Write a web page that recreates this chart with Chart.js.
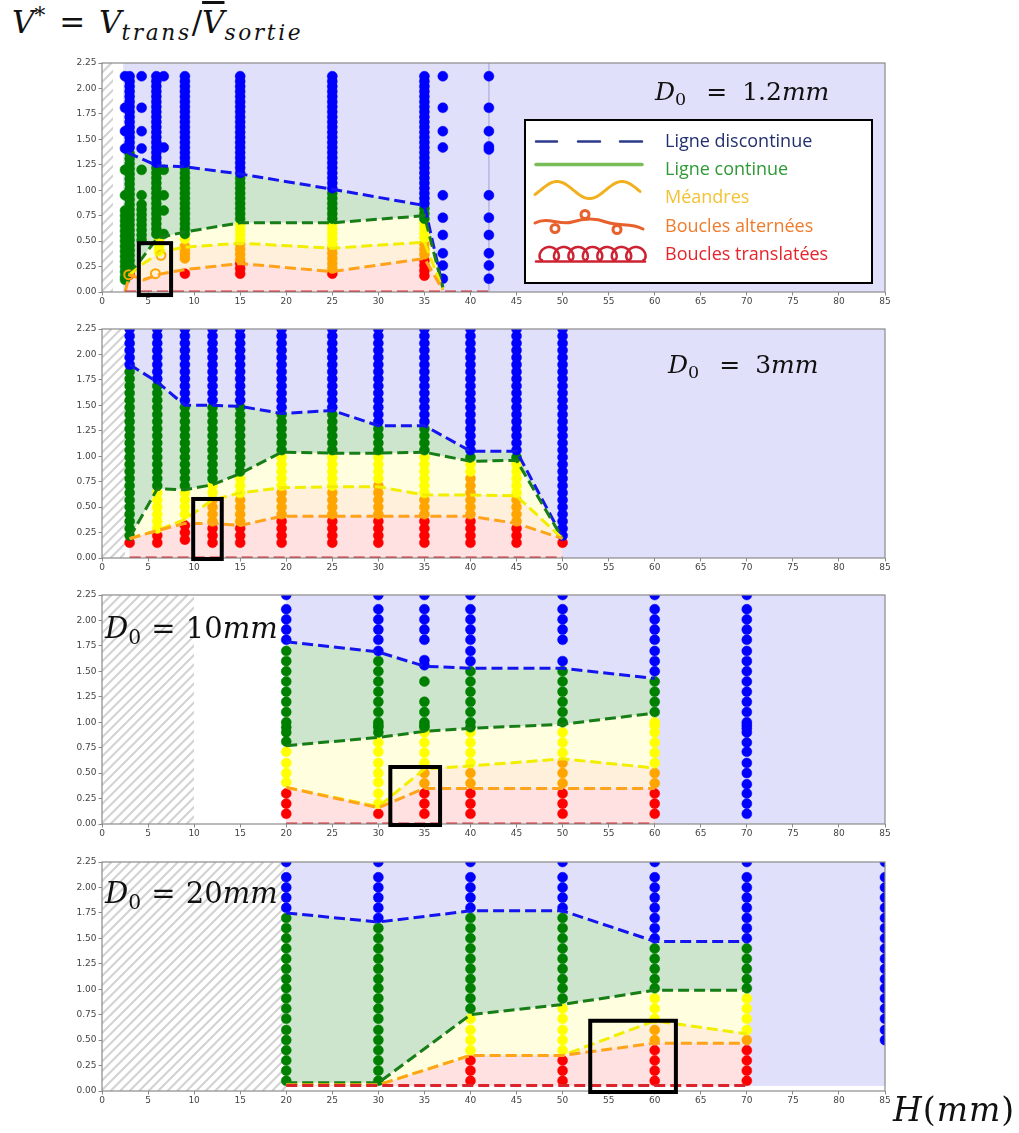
<!DOCTYPE html>
<html>
<head>
<meta charset="utf-8">
<script src="https://cdn.jsdelivr.net/npm/chart.js@4.4.0/dist/chart.umd.min.js"></script>
<style>
  body { margin: 0; background: #fff; }
  #page { position: relative; width: 1019px; height: 1133px; overflow: hidden; }
  canvas { position: absolute; left: 0; }
  .math { position: absolute; font-family: 'DejaVu Serif', serif; white-space: nowrap; line-height: 1; color: #111; }
  .math i { font-style: italic; }
  .math sub, .math sup { font-size: 0.7em; position: relative; vertical-align: baseline; line-height: 0; }
  .math sub { top: 0.3em; }
  .math sup { top: -0.45em; }
  .bar { text-decoration: overline; }
</style>
</head>
<body>
<div id="page">
  <canvas id="c1" width="1019" height="261" style="top:53px"></canvas>
  <canvas id="c2" width="1019" height="261" style="top:319px"></canvas>
  <canvas id="c3" width="1019" height="261" style="top:585px"></canvas>
  <canvas id="c4" width="1019" height="261" style="top:852px"></canvas>

  <div class="math" style="left:12px;top:7px;font-size:31px"><i>V</i><sup>*</sup><span style="margin:0 0.45em">=</span><i>V</i><sub style="letter-spacing:0.12em"><i>trans</i></sub>/<i class="bar">V</i><sub style="letter-spacing:0.12em"><i>sortie</i></sub></div>
  <div class="math" style="left:655px;top:79px;font-size:25px"><i>D</i><sub>0</sub><span style="margin:0 0.6em 0 0.8em">=</span>1.2<i>mm</i></div>
  <div class="math" style="left:668px;top:352px;font-size:25px"><i>D</i><sub>0</sub><span style="margin:0 0.6em 0 0.8em">=</span>3<i>mm</i></div>
  <div class="math" style="left:105px;top:614px;font-size:29px"><i>D</i><sub>0</sub><span style="margin:0 0.35em">=</span>10<i>mm</i></div>
  <div class="math" style="left:105px;top:879px;font-size:29px"><i>D</i><sub>0</sub><span style="margin:0 0.35em">=</span>20<i>mm</i></div>
  <div class="math" style="left:893px;top:1093px;font-size:33px;letter-spacing:1px"><i>H</i>(<i>mm</i>)</div>
</div>

<script>
// ---- panel 1 : D0 = 1.2mm ----
const p1Blue = [
  [2.5, [2.12, 1.81, 1.58, 1.41]],
  [3, [2.12, 2.07, 2.02, 1.97, 1.92, 1.87, 1.82, 1.77, 1.72, 1.67, 1.62, 1.57, 1.52, 1.47, 1.42]],
  [4.3, [2.12, 1.81, 1.58, 1.41]],
  [5.9, [2.12, 2.07, 2.02, 1.97, 1.92, 1.87, 1.82, 1.77, 1.72, 1.67, 1.62, 1.57, 1.52, 1.47, 1.42, 1.37, 1.32, 1.27]],
  [6.7, [2.12, 1.42]],
  [9, [2.12, 2.07, 2.02, 1.97, 1.92, 1.87, 1.82, 1.77, 1.72, 1.67, 1.62, 1.57, 1.52, 1.47, 1.42, 1.37, 1.32, 1.27]],
  [15, [2.12, 2.07, 2.02, 1.97, 1.92, 1.87, 1.82, 1.77, 1.72, 1.67, 1.62, 1.57, 1.52, 1.47, 1.42, 1.37, 1.32, 1.27, 1.22, 1.17]],
  [25, [2.12, 2.07, 2.02, 1.97, 1.92, 1.87, 1.82, 1.77, 1.72, 1.67, 1.62, 1.57, 1.52, 1.47, 1.42, 1.37, 1.32, 1.27, 1.22, 1.17, 1.12, 1.07, 1.02]],
  [35, [2.12, 2.07, 2.02, 1.97, 1.92, 1.87, 1.82, 1.77, 1.72, 1.67, 1.62, 1.57, 1.52, 1.47, 1.42, 1.37, 1.32, 1.27, 1.22, 1.17, 1.12, 1.07, 1.02, 0.97, 0.92, 0.87]],
  [37, [2.12, 1.81, 1.58, 1.42, 0.95, 0.73, 0.56, 0.38, 0.26, 0.13]],
  [42, [2.12, 1.81, 1.58, 1.43, 1.40, 0.95, 0.73, 0.56, 0.38, 0.26, 0.13]]
];
const p1Green = [
  [2.5, [1.2, 0.95, 0.8, 0.75, 0.7, 0.65, 0.6, 0.55, 0.5, 0.45, 0.4, 0.35, 0.3, 0.25, 0.2, 0.15, 0.12]],
  [3, [1.36, 1.31, 1.26, 1.21, 1.16, 1.11, 1.06, 1.01, 0.96, 0.91, 0.86, 0.81, 0.76, 0.71, 0.66, 0.61, 0.56, 0.51, 0.46, 0.41, 0.36, 0.31, 0.26, 0.21]],
  [4.3, [1.2, 0.95, 0.86, 0.81, 0.76, 0.71, 0.66, 0.61, 0.56, 0.51]],
  [5.9, [1.22, 1.17, 1.12, 1.07, 1.02, 0.97, 0.92, 0.87, 0.82, 0.77, 0.72, 0.67, 0.62, 0.57]],
  [6.7, [1.2, 0.95, 0.8, 0.57]],
  [9, [1.22, 1.17, 1.12, 1.07, 1.02, 0.97, 0.92, 0.87, 0.82, 0.77, 0.72, 0.67, 0.62, 0.57]],
  [15, [1.12, 1.07, 1.02, 0.97, 0.92, 0.87, 0.82, 0.77, 0.72]],
  [25, [0.97, 0.92, 0.87, 0.82, 0.77, 0.72]],
  [35, [0.82, 0.77, 0.72]]
];
const p1Yellow = [
  [6.2, [0.5, 0.45, 0.4]],
  [9, [0.52]],
  [15, [0.66, 0.61, 0.56, 0.51]],
  [25, [0.67, 0.62, 0.57, 0.52, 0.47]],
  [35, [0.68, 0.63, 0.58, 0.53]]
];
const p1Orange = [
  [9, [0.45, 0.41, 0.37, 0.33]],
  [15, [0.47, 0.42, 0.37, 0.32]],
  [25, [0.43, 0.38, 0.33, 0.28, 0.23]],
  [35, [0.47, 0.42, 0.37]]
];
const p1Red = [
  [3, [0.17]],
  [9, [0.18]],
  [15, [0.28, 0.23, 0.18]],
  [25, [0.18]],
  [35, [0.31, 0.26, 0.21, 0.16]]
];
const p1Rings = [[2.9, [0.17]], [6.4, [0.36]], [5.8, [0.18]]];
const p1LineBlue = [[2.8, 1.37], [6, 1.24], [9, 1.23], [15, 1.16], [25, 1.01], [35, 0.85], [37, 0.05]];
const p1LineGreen = [[3, 0.17], [6, 0.53], [9, 0.59], [15, 0.68], [25, 0.68], [35, 0.75], [37, 0.04]];
const p1LineYellow = [[3, 0.17], [4.5, 0.28], [6.5, 0.4], [9, 0.44], [15, 0.48], [25, 0.43], [35, 0.49], [37, 0.03]];
const p1LineOrange = [[2.5, 0], [3, 0.17], [4.5, 0.12], [6.5, 0.18], [9, 0.22], [15, 0.28], [25, 0.2], [35, 0.33], [37, 0.02]];
const p1LineRed = [[2.5, 0], [42, 0]];
const p1VLine = [[42, 0], [42, 2.25]];
const p1Box = [4.0, 7.5, -0.03, 0.48];

// ---- panel 2 : D0 = 3mm ----
const p2Blue = [
  [3, [2.25, 2.18, 2.11, 2.04, 1.97, 1.90]],
  [6, [2.25, 2.18, 2.11, 2.04, 1.97, 1.90, 1.83, 1.76]],
  [9, [2.25, 2.18, 2.11, 2.04, 1.97, 1.90, 1.83, 1.76, 1.69, 1.62, 1.55]],
  [12, [2.25, 2.18, 2.11, 2.04, 1.97, 1.90, 1.83, 1.76, 1.69, 1.62, 1.55]],
  [15, [2.25, 2.18, 2.11, 2.04, 1.97, 1.90, 1.83, 1.76, 1.69, 1.62, 1.55]],
  [19.5, [2.25, 2.18, 2.11, 2.04, 1.97, 1.90, 1.83, 1.76, 1.69, 1.62, 1.55, 1.48]],
  [25, [2.25, 2.18, 2.11, 2.04, 1.97, 1.90, 1.83, 1.76, 1.69, 1.62, 1.55, 1.48]],
  [30, [2.25, 2.18, 2.11, 2.04, 1.97, 1.90, 1.83, 1.76, 1.69, 1.62, 1.55, 1.48, 1.41, 1.34]],
  [35, [2.25, 2.18, 2.11, 2.04, 1.97, 1.90, 1.83, 1.76, 1.69, 1.62, 1.55, 1.48, 1.41, 1.34]],
  [40, [2.25, 2.18, 2.11, 2.04, 1.97, 1.90, 1.83, 1.76, 1.69, 1.62, 1.55, 1.48, 1.41, 1.34, 1.27, 1.20, 1.13, 1.06]],
  [45, [2.25, 2.18, 2.11, 2.04, 1.97, 1.90, 1.83, 1.76, 1.69, 1.62, 1.55, 1.48, 1.41, 1.34, 1.27, 1.20, 1.13, 1.06]],
  [50, [2.25, 2.18, 2.11, 2.04, 1.97, 1.90, 1.83, 1.76, 1.69, 1.62, 1.55, 1.48, 1.41, 1.34, 1.27, 1.20, 1.13, 1.06, 0.99, 0.92, 0.85, 0.78, 0.71, 0.64, 0.57, 0.50, 0.43, 0.36, 0.29, 0.22]]
];
const p2Green = [
  [3, [1.83, 1.76, 1.69, 1.62, 1.55, 1.48, 1.41, 1.34, 1.27, 1.20, 1.13, 1.06, 0.99, 0.92, 0.85, 0.78, 0.71, 0.64, 0.57, 0.50, 0.43, 0.36, 0.29, 0.22]],
  [6, [1.69, 1.62, 1.55, 1.48, 1.41, 1.34, 1.27, 1.20, 1.13, 1.06, 0.99, 0.92, 0.85, 0.78, 0.71]],
  [9, [1.48, 1.41, 1.34, 1.27, 1.20, 1.13, 1.06, 0.99, 0.92, 0.85, 0.78, 0.71]],
  [12, [1.48, 1.41, 1.34, 1.27, 1.20, 1.13, 1.06, 0.99, 0.92, 0.85, 0.78]],
  [15, [1.48, 1.41, 1.34, 1.27, 1.20, 1.13, 1.06, 0.99, 0.92, 0.85]],
  [19.5, [1.41, 1.34, 1.27, 1.20, 1.13, 1.06]],
  [25, [1.41, 1.34, 1.27, 1.20, 1.13, 1.06]],
  [30, [1.27, 1.20, 1.13, 1.06]],
  [35, [1.27, 1.20, 1.13, 1.06]],
  [40, [0.99]],
  [45, [0.99]]
];
const p2Yellow = [
  [6, [0.64, 0.57, 0.50, 0.43, 0.36, 0.29]],
  [9, [0.64, 0.57, 0.50, 0.43]],
  [12, [0.71, 0.64]],
  [15, [0.78, 0.71, 0.64]],
  [19.5, [0.99, 0.92, 0.85, 0.78, 0.71]],
  [25, [0.99, 0.92, 0.85, 0.78, 0.71]],
  [30, [0.99, 0.92, 0.85, 0.78]],
  [35, [0.99, 0.92, 0.85, 0.78, 0.71, 0.64]],
  [40, [0.92, 0.85]],
  [45, [0.92, 0.85, 0.78, 0.71, 0.64]]
];
const p2Orange = [
  [12, [0.57, 0.50, 0.43, 0.36]],
  [15, [0.57, 0.50, 0.43, 0.36]],
  [19.5, [0.64, 0.57, 0.50, 0.43]],
  [25, [0.64, 0.57, 0.50, 0.43]],
  [30, [0.71, 0.64, 0.57, 0.50, 0.43]],
  [35, [0.57, 0.50, 0.43]],
  [40, [0.78, 0.71, 0.64, 0.57, 0.50, 0.43]],
  [45, [0.57, 0.50, 0.43, 0.36]]
];
const p2Red = [
  [3, [0.15]],
  [6, [0.22, 0.15]],
  [9, [0.32, 0.25, 0.18]],
  [12, [0.29, 0.22, 0.15]],
  [15, [0.29, 0.22, 0.15]],
  [19.5, [0.36, 0.29, 0.22, 0.15]],
  [25, [0.36, 0.29, 0.22, 0.15]],
  [30, [0.36, 0.29, 0.22, 0.15]],
  [35, [0.36, 0.29, 0.22, 0.15]],
  [40, [0.36, 0.29, 0.22, 0.15]],
  [45, [0.29, 0.22, 0.15]],
  [50, [0.15]]
];
const p2LineBlue = [[3, 1.9], [6, 1.73], [9, 1.5], [12, 1.5], [15, 1.49], [19.5, 1.42], [25, 1.45], [30, 1.3], [35, 1.3], [40, 1.05], [45, 1.05], [50, 0.2]];
const p2LineGreen = [[3, 0.2], [6, 0.68], [9, 0.67], [12, 0.72], [15, 0.83], [19.5, 1.04], [25, 1.03], [30, 1.03], [35, 1.04], [40, 0.95], [45, 0.96], [50, 0.19]];
const p2LineYellow = [[3, 0.19], [6, 0.27], [9, 0.38], [12, 0.57], [15, 0.64], [19.5, 0.69], [25, 0.7], [30, 0.7], [35, 0.62], [40, 0.62], [45, 0.61], [50, 0.19]];
const p2LineOrange = [[3, 0.19], [6, 0.27], [9, 0.34], [12, 0.34], [15, 0.32], [19.5, 0.41], [25, 0.41], [30, 0.41], [35, 0.41], [40, 0.41], [45, 0.34], [50, 0.19]];
const p2LineRed = [[3, 0], [50, 0]];
const p2Box = [9.9, 13.0, -0.01, 0.58];

// ---- panel 3 : D0 = 10mm ----
const p3Blue = [
  [20, [2.25, 2.11, 2.01, 1.91, 1.81]],
  [30, [2.25, 2.11, 2.01, 1.91, 1.81, 1.70]],
  [35, [2.25, 2.11, 2.01, 1.91, 1.81, 1.61, 1.56]],
  [40, [2.25, 2.11, 2.01, 1.91, 1.81, 1.70, 1.60]],
  [50, [2.25, 2.11, 2.01, 1.91, 1.81, 1.60]],
  [60, [2.25, 2.11, 2.01, 1.91, 1.81, 1.70, 1.60, 1.50]],
  [70, [2.25, 2.11, 2.01, 1.91, 1.81, 1.70, 1.60, 1.50, 1.40, 1.30, 1.20, 1.10, 1.00, 0.97, 0.94, 0.90, 0.80, 0.71, 0.60, 0.50, 0.39, 0.30, 0.20, 0.10]]
];
const p3Green = [
  [20, [1.70, 1.60, 1.50, 1.40, 1.30, 1.20, 1.10, 1.00, 0.95, 0.90, 0.81]],
  [30, [1.60, 1.50, 1.40, 1.30, 1.20, 1.10, 1.00, 0.97, 0.95, 0.90]],
  [35, [1.40, 1.20, 1.10, 1.00, 0.97, 0.95]],
  [40, [1.50, 1.40, 1.30, 1.20, 1.10, 1.00, 0.95]],
  [50, [1.50, 1.40, 1.30, 1.20, 1.10, 1.00]],
  [60, [1.40, 1.30, 1.20, 1.10]]
];
const p3Yellow = [
  [20, [0.71, 0.60, 0.50, 0.41]],
  [30, [0.80, 0.71, 0.60, 0.50, 0.41, 0.30, 0.20]],
  [35, [0.90, 0.80, 0.70, 0.60]],
  [40, [0.90, 0.80, 0.70, 0.60]],
  [50, [0.90, 0.80, 0.70]],
  [60, [1.00, 0.97, 0.90, 0.80, 0.70, 0.60]]
];
const p3Orange = [[35, [0.50, 0.40]], [40, [0.50, 0.40]], [50, [0.60, 0.50, 0.40]], [60, [0.50, 0.40]]];
const p3Red = [[20, [0.30, 0.20, 0.10]], [30, [0.10]], [35, [0.30, 0.20, 0.10]], [40, [0.30, 0.20, 0.10]], [50, [0.30, 0.20, 0.10]], [60, [0.30, 0.20, 0.10]]];
const p3LineBlue = [[20, 1.79], [30, 1.69], [35, 1.55], [40, 1.53], [50, 1.53], [60, 1.43]];
const p3LineGreen = [[20, 0.77], [30, 0.85], [35, 0.91], [40, 0.94], [50, 0.98], [60, 1.09]];
const p3LineYellow = [[20, 0.36], [30, 0.17], [35, 0.54], [40, 0.57], [50, 0.64], [60, 0.55]];
const p3LineOrange = [[20, 0.36], [30, 0.16], [35, 0.35], [40, 0.35], [50, 0.35], [60, 0.35]];
const p3LineRed = [[20, 0], [60, 0]];
const p3Box = [31.3, 36.7, -0.01, 0.56];

// ---- panel 4 : D0 = 20mm ----
const p4Blue = [
  [20, [2.25, 2.10, 2.00, 1.90, 1.80]],
  [30, [2.25, 2.10, 2.00, 1.90, 1.80, 1.70]],
  [40, [2.25, 2.10, 2.00, 1.90, 1.80]],
  [50, [2.25, 2.10, 2.00, 1.90, 1.80]],
  [60, [2.25, 2.10, 2.00, 1.90, 1.80, 1.70, 1.60, 1.50]],
  [70, [2.25, 2.10, 2.00, 1.90, 1.80, 1.70, 1.60, 1.50]],
  [85, [2.25, 2.10, 2.00, 1.90, 1.80, 1.70, 1.60, 1.50, 1.40, 1.30, 1.20, 1.10, 1.01, 0.91, 0.81, 0.71, 0.60, 0.50]]
];
const p4Green = [
  [20, [1.70, 1.60, 1.50, 1.40, 1.30, 1.20, 1.10, 1.01, 0.91, 0.81, 0.71, 0.60, 0.50, 0.40, 0.30, 0.20, 0.10]],
  [30, [1.60, 1.50, 1.40, 1.30, 1.20, 1.10, 1.01, 0.91, 0.81, 0.71, 0.60, 0.50, 0.40, 0.30, 0.20, 0.10]],
  [40, [1.70, 1.60, 1.50, 1.40, 1.30, 1.20, 1.10, 1.01, 0.91, 0.81]],
  [50, [1.70, 1.60, 1.50, 1.40, 1.30, 1.20, 1.10, 1.01, 0.91]],
  [60, [1.40, 1.30, 1.20, 1.10, 1.01]],
  [70, [1.40, 1.30, 1.20, 1.10, 1.01]]
];
const p4Yellow = [[40, [0.71, 0.60, 0.50, 0.40]], [50, [0.81, 0.71, 0.60, 0.50, 0.40]], [60, [0.91, 0.81, 0.71]], [70, [0.91, 0.81, 0.71, 0.60]]];
const p4Orange = [[60, [0.60, 0.50]], [70, [0.50]]];
const p4Red = [[40, [0.30, 0.20, 0.10]], [50, [0.30, 0.20, 0.10]], [60, [0.40, 0.30, 0.20, 0.10]], [70, [0.40, 0.30, 0.20, 0.10]]];
const p4LineBlue = [[20, 1.75], [30, 1.66], [40, 1.77], [50, 1.77], [60, 1.47], [70, 1.47]];
const p4LineGreen = [[20, 0.08], [30, 0.08], [40, 0.75], [50, 0.85], [60, 0.99], [70, 0.99]];
const p4LineYellow = [[20, 0.06], [30, 0.06], [40, 0.35], [50, 0.35], [60, 0.69], [70, 0.56]];
const p4LineOrange = [[20, 0.06], [30, 0.06], [40, 0.35], [50, 0.35], [60, 0.47], [70, 0.47]];
const p4LineRed = [[20, 0.055], [70, 0.055]];
const p4Box = [53.0, 62.3, -0.01, 0.69];

// hatched zone (x < D0), start of the blue zone, bottom of the blue zone
const hatchEnd = [1.2, 2.5, 10, 20];
const blueStart = [2.3, 3, 20, 20];
const blueFloor = [0, 0, 0, 0.05];

const xTicks = { min: 0, max: 85, step: 5 };
const yTicks = { min: 0, max: 2.25, step: 0.25 };

const legendLabels = ['Ligne discontinue', 'Ligne continue', 'Méandres', 'Boucles alternées', 'Boucles translatées'];
const legendColors = ['#22306e', '#2f9a35', '#f3c234', '#ef7b2c', '#e5242c'];

// colours
const DOT = { blue: '#0000ff', green: '#008000', yellow: '#ffff00', orange: '#ffa500', red: '#ff0000' };
const LINE = { blue: '#1414f0', green: '#177d17', yellow: '#f2ee00', orange: '#ffa31a', red: '#d9262c' };
const FILL = { red: '#ffe1e1', orange: '#fff0dc', yellow: '#ffffdf', green: '#cce5cc' };
const BG_BLUE = '#e0e0fa';

function toPts(cols) {
  const out = [];
  cols.forEach(function (c) {
    c[1].forEach(function (y) { out.push({ x: c[0], y: y }); });
  });
  return out;
}
function toLine(arr) {
  return arr.map(function (p) { return { x: p[0], y: p[1] }; });
}
function dashed(arr, color, fill, bg) {
  return {
    type: 'line', data: toLine(arr), borderColor: color, borderWidth: 3, borderDash: [11, 5],
    pointRadius: 0, pointHoverRadius: 0, fill: fill, backgroundColor: bg || 'rgba(0,0,0,0)',
    tension: 0, order: 0, clip: 0
  };
}
function dots(cols, color) {
  return {
    type: 'scatter', data: toPts(cols), backgroundColor: color, borderColor: color,
    pointRadius: 5, pointBorderWidth: 0.5, pointHoverRadius: 5, order: 1, clip: 0
  };
}

function drawLegend(ctx, oy) {
  // box
  ctx.save();
  ctx.fillStyle = '#fff';
  ctx.fillRect(525, 120 - oy, 347, 163);
  ctx.strokeStyle = '#000';
  ctx.lineWidth = 2;
  ctx.strokeRect(525, 120 - oy, 347, 163);
  ctx.lineCap = 'round';

  // dashes
  ctx.strokeStyle = '#2d3a8a';
  ctx.lineWidth = 2.5;
  ctx.beginPath();
  [[536, 557], [578, 600], [620, 642]].forEach(function (s) {
    ctx.moveTo(s[0], 141.5 - oy); ctx.lineTo(s[1], 141.5 - oy);
  });
  ctx.stroke();

  // solid
  ctx.strokeStyle = '#78bd57';
  ctx.lineWidth = 3.5;
  ctx.beginPath(); ctx.moveTo(536, 164.5 - oy); ctx.lineTo(642, 164.5 - oy); ctx.stroke();

  // meander
  ctx.strokeStyle = '#f2b020';
  ctx.lineWidth = 3;
  ctx.beginPath();
  for (let x = 535; x <= 640; x++) {
    const y = 190 - 8.5 * Math.cos(2 * Math.PI * (x - 557) / 65) - oy;
    if (x === 535) ctx.moveTo(x, y); else ctx.lineTo(x, y);
  }
  ctx.stroke();

  // alternating loops
  ctx.strokeStyle = '#e8612c';
  ctx.lineWidth = 3;
  ctx.beginPath();
  ctx.moveTo(535, 223 - oy);
  ctx.bezierCurveTo(548, 216 - oy, 560, 226 - oy, 572, 222 - oy);
  ctx.bezierCurveTo(585, 218 - oy, 596, 218 - oy, 606, 222 - oy);
  ctx.bezierCurveTo(620, 227 - oy, 630, 222 - oy, 643, 229 - oy);
  ctx.stroke();
  [[555, 228.5], [585, 214.5], [617, 229.5]].forEach(function (c) {
    ctx.beginPath(); ctx.arc(c[0], c[1] - oy, 4, 0, 2 * Math.PI); ctx.stroke();
  });

  // translating loops
  ctx.strokeStyle = '#cc2231';
  ctx.lineWidth = 2.5;
  ctx.beginPath();
  for (let t = 0; t <= 14 * Math.PI; t += 0.1) {
    const x = 542 + 2.3 * t - 5.6 * Math.sin(t);
    const y = 253.5 + 6.5 * Math.cos(t) - oy;
    if (t === 0) ctx.moveTo(x, y); else ctx.lineTo(x, y);
  }
  ctx.stroke();
  ctx.beginPath(); ctx.moveTo(536, 261.5 - oy); ctx.lineTo(645, 261.5 - oy); ctx.stroke();

  // labels
  ctx.font = '18px "Open Sans"';
  ctx.textBaseline = 'middle';
  ctx.textAlign = 'left';
  const ys = [142, 170, 198, 226.5, 254.5];
  legendLabels.forEach(function (t, i) {
    ctx.fillStyle = legendColors[i];
    ctx.fillText(t, 665, ys[i] - oy);
  });
  ctx.restore();
}

function makePanel(k, id, L, D, extra) {
  const datasets = [
    dashed(L[0], LINE.red, false),
    dashed(L[1], LINE.orange, '-1', FILL.red),
    dashed(L[2], LINE.yellow, '-1', FILL.orange),
    dashed(L[3], LINE.green, '-1', FILL.yellow),
    dashed(L[4], LINE.blue, '-1', FILL.green),
    dots(D[0], DOT.blue),
    dots(D[1], DOT.green),
    dots(D[2], DOT.yellow),
    dots(D[3], DOT.orange),
    dots(D[4], DOT.red)
  ];
  if (extra.vline) {
    datasets.push({ type: 'line', data: toLine(extra.vline), borderColor: 'rgba(130,130,205,0.45)', borderWidth: 1.5,
      pointRadius: 0, fill: false, order: 2, clip: 0 });
  }
  if (extra.rings) {
    datasets.push({ type: 'scatter', data: toPts(extra.rings), backgroundColor: 'rgba(0,0,0,0)', borderColor: DOT.orange,
      pointRadius: 4.5, pointBorderWidth: 2, order: 0, clip: 0 });
  }

  const panelPlugin = {
    id: 'panel' + k,
    beforeDraw: function (chart) {
      const ctx = chart.ctx, a = chart.chartArea, x = chart.scales.x, y = chart.scales.y;
      ctx.save();
      // blue zone
      const bx = x.getPixelForValue(blueStart[k]);
      const by = y.getPixelForValue(blueFloor[k]);
      ctx.fillStyle = BG_BLUE;
      ctx.fillRect(bx, a.top, a.right - bx, by - a.top);
      // hatched zone
      const hx = x.getPixelForValue(hatchEnd[k]);
      ctx.beginPath();
      ctx.rect(a.left, a.top, hx - a.left, a.bottom - a.top);
      ctx.clip();
      ctx.strokeStyle = '#d3d3d3';
      ctx.lineWidth = 2.2;
      const h = a.bottom - a.top;
      ctx.beginPath();
      for (let s = -h; s < hx - a.left + h; s += 9.5) {
        ctx.moveTo(a.left + s, a.bottom);
        ctx.lineTo(a.left + s + h, a.top);
      }
      ctx.stroke();
      ctx.restore();
    },
    afterDatasetsDraw: function (chart) {
      const ctx = chart.ctx, a = chart.chartArea;
      ctx.save();
      ctx.strokeStyle = '#8a8a8a';
      ctx.lineWidth = 1.2;
      ctx.strokeRect(a.left, a.top, a.right - a.left, a.bottom - a.top);
      ctx.restore();
    },
    afterDraw: function (chart) {
      const ctx = chart.ctx, x = chart.scales.x, y = chart.scales.y;
      const b = extra.box;
      const x0 = x.getPixelForValue(b[0]), x1 = x.getPixelForValue(b[1]);
      const y0 = y.getPixelForValue(b[2]), y1 = y.getPixelForValue(b[3]);
      ctx.save();
      ctx.strokeStyle = '#000';
      ctx.lineWidth = 4;
      ctx.strokeRect(x0, y1, x1 - x0, y0 - y1);
      ctx.restore();
      if (extra.legend) drawLegend(ctx, chart.canvas.offsetTop);
    }
  };

  const tickFont = { family: 'DejaVu Sans', size: 9 };
  new Chart(document.getElementById(id), {
    type: 'scatter',
    data: { datasets: datasets },
    options: {
      responsive: false,
      animation: false,
      events: [],
      layout: { padding: { top: 10, right: 134, bottom: 0, left: 0 } },
      plugins: {
        legend: { display: false },
        tooltip: { enabled: false },
        filler: { drawTime: 'beforeDatasetsDraw', propagate: false }
      },
      scales: {
        x: {
          type: 'linear', min: xTicks.min, max: xTicks.max,
          ticks: { stepSize: xTicks.step, font: tickFont, color: '#444', padding: 1, maxRotation: 0, autoSkip: false },
          grid: { display: true, drawOnChartArea: false, drawTicks: true, tickLength: 3.5, color: '#8a8a8a' },
          border: { display: false },
          afterFit: function (s) { s.height = 22; }
        },
        y: {
          type: 'linear', min: yTicks.min, max: yTicks.max,
          ticks: { stepSize: yTicks.step, font: tickFont, color: '#444', padding: 2,
            callback: function (v) { return Number(v).toFixed(2); } },
          grid: { display: true, drawOnChartArea: false, drawTicks: true, tickLength: 3.5, color: '#8a8a8a' },
          border: { display: false },
          afterFit: function (s) { s.width = 102; }
        }
      }
    },
    plugins: [panelPlugin]
  });
}

makePanel(0, 'c1',
  [p1LineRed, p1LineOrange, p1LineYellow, p1LineGreen, p1LineBlue],
  [p1Blue, p1Green, p1Yellow, p1Orange, p1Red],
  { box: p1Box, vline: p1VLine, rings: p1Rings, legend: true });
makePanel(1, 'c2',
  [p2LineRed, p2LineOrange, p2LineYellow, p2LineGreen, p2LineBlue],
  [p2Blue, p2Green, p2Yellow, p2Orange, p2Red],
  { box: p2Box });
makePanel(2, 'c3',
  [p3LineRed, p3LineOrange, p3LineYellow, p3LineGreen, p3LineBlue],
  [p3Blue, p3Green, p3Yellow, p3Orange, p3Red],
  { box: p3Box });
makePanel(3, 'c4',
  [p4LineRed, p4LineOrange, p4LineYellow, p4LineGreen, p4LineBlue],
  [p4Blue, p4Green, p4Yellow, p4Orange, p4Red],
  { box: p4Box });
</script>
</body>
</html>
